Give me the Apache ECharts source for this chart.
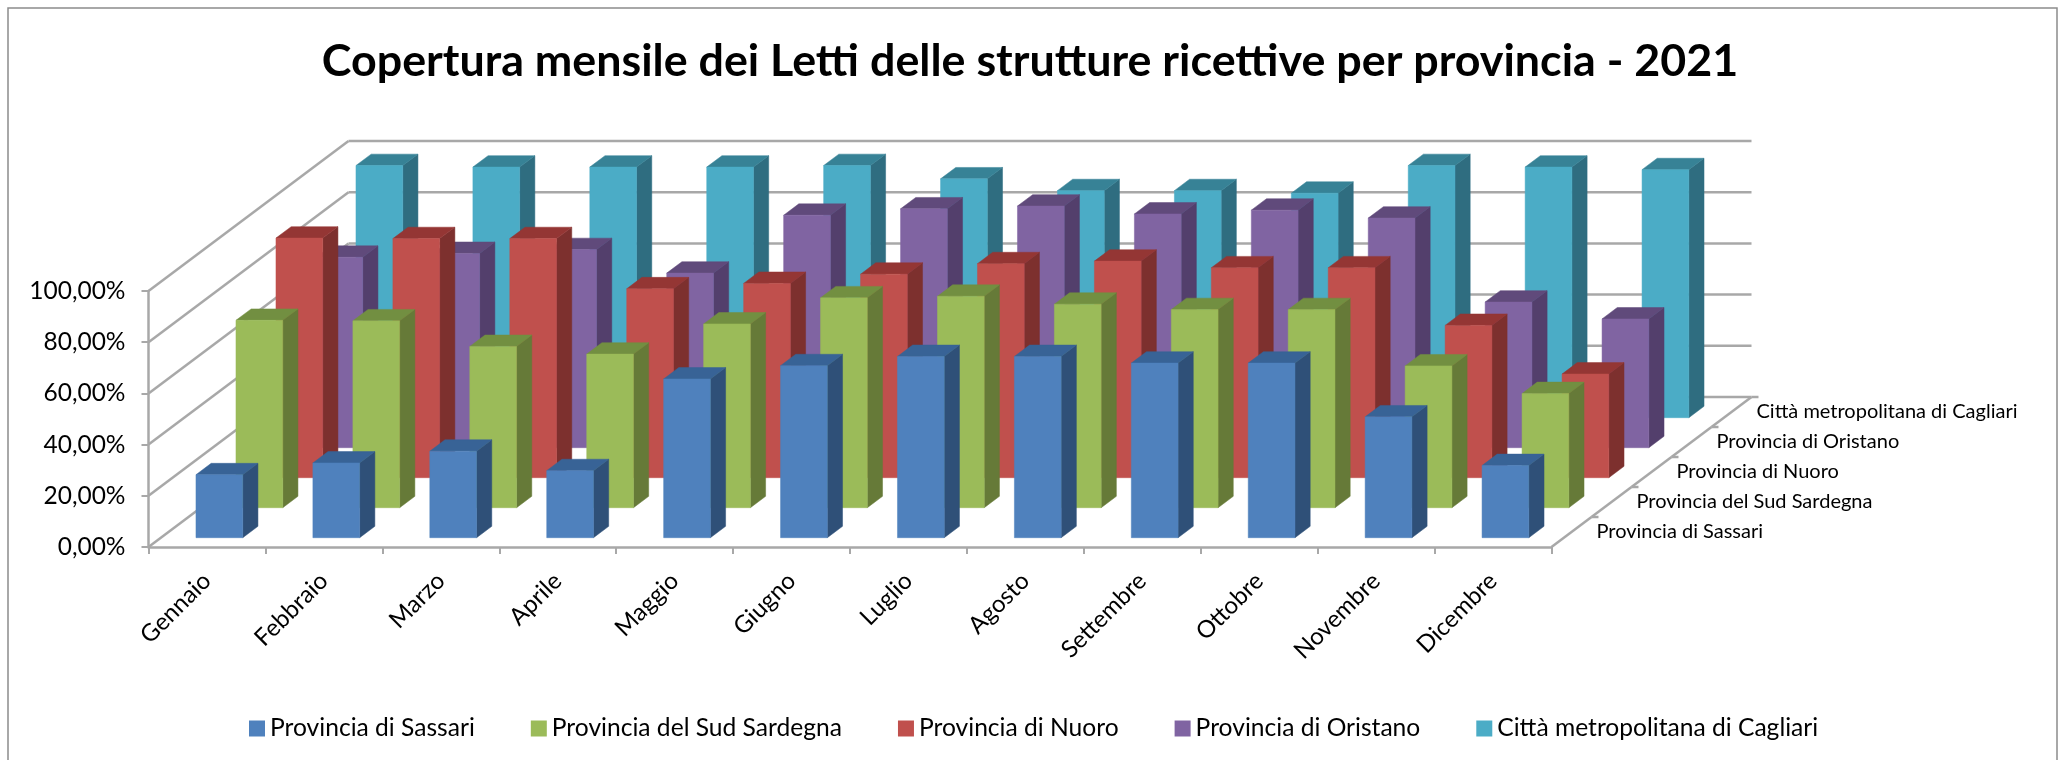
<!DOCTYPE html>
<html>
<head>
<meta charset="utf-8">
<style>html,body{margin:0;padding:0;background:#fff}#c{width:2060px;height:760px}</style>
<script src="https://cdn.jsdelivr.net/npm/echarts@6/dist/echarts.min.js"></script>
</head>
<body>
<div id="c"></div>
<script>
const months = ['Gennaio','Febbraio','Marzo','Aprile','Maggio','Giugno','Luglio','Agosto','Settembre','Ottobre','Novembre','Dicembre'];
const provinces = ['Provincia di Sassari','Provincia del Sud Sardegna','Provincia di Nuoro','Provincia di Oristano','Città metropolitana di Cagliari'];
const yTicks = [0,20,40,60,80,100];
const sassari = [24.6,29.2,33.8,26.2,62.0,67.2,70.8,70.8,68.2,68.2,47.2,28.2];
const sudSardegna = [73.2,73.0,63.0,60.0,71.8,82.0,82.6,79.5,77.4,77.4,55.4,44.6];
const nuoro = [93.6,93.4,93.4,73.8,75.9,79.5,83.6,84.6,82.0,82.0,59.5,40.5];
const oristano = [74.4,75.9,77.4,68.2,90.8,93.3,94.4,91.3,92.8,89.7,56.9,50.3];
const cagliari = [98.5,97.9,97.9,97.9,98.5,93.3,88.7,88.7,87.7,98.5,97.9,96.9];
const rows = [sassari,sudSardegna,nuoro,oristano,cagliari];
const palette = [
  {front:'#4F81BD',side:'#2F5078',top:'#386396'},
  {front:'#9BBB59',side:'#667A38',top:'#728F41'},
  {front:'#C0504D',side:'#7D302E',top:'#943634'},
  {front:'#8064A2',side:'#533F6C',top:'#604A7B'},
  {front:'#4BACC6',side:'#2F6D80',top:'#378296'}
];
const DX = 200, DY = -150, FONT = 'Lato, "Open Sans", sans-serif', GRID = '#A8A8A8';
const depth = d => [DX * d / rows.length, DY * d / rows.length];

function barItem(row){
  return function(params, api){
    const c = api.value(0), v = api.value(1);
    const base = api.coord([c,0]), head = api.coord([c,v]);
    const w = api.size([1,0])[0] * 0.40;
    const f = depth(row + 0.31), b = depth(row + 0.69);
    const xl = base[0] - w/2 + f[0], xr = base[0] + w/2 + f[0];
    const xbl = base[0] - w/2 + b[0], xbr = base[0] + w/2 + b[0];
    const yb = base[1] + f[1], yt = head[1] + f[1];
    const ybb = base[1] + b[1], ytb = head[1] + b[1];
    const col = palette[row];
    const poly = (pts, fill) => ({type:'polygon', shape:{points:pts}, style:{fill, stroke:fill, lineWidth:0.5}, silent:true});
    return {type:'group', children:[
      poly([[xr,yb],[xbr,ybb],[xbr,ytb],[xr,yt]], col.side),
      poly([[xl,yt],[xr,yt],[xbr,ytb],[xbl,ytb]], col.top),
      poly([[xl,yb],[xr,yb],[xr,yt],[xl,yt]], col.front)
    ]};
  };
}
function wallItem(params, api){
  const t = api.value(1);
  const p = api.coord([0,t]);
  const size = api.size([1,0])[0];
  const x0 = p[0] - size/2, x1 = x0 + size * months.length;
  const d = depth(rows.length);
  const line = (a,b) => ({type:'line', shape:{x1:a[0],y1:a[1],x2:b[0],y2:b[1]}, style:{stroke:GRID, lineWidth:2.5}, silent:true});
  return {type:'group', children:[
    line([x0,p[1]],[x0+d[0],p[1]+d[1]]),
    line([x0+d[0],p[1]+d[1]],[x1+d[0],p[1]+d[1]])
  ]};
}
function depthAxisItem(params, api){
  const r = api.value(1);
  const p0 = api.coord([months.length-1,0]);
  const size = api.size([1,0])[0];
  const x = p0[0] + size/2, y = p0[1];
  const children = [];
  const a = depth(r), b = depth(r+1), m = depth(r+0.5);
  children.push({type:'line', shape:{x1:x+a[0],y1:y+a[1],x2:x+b[0],y2:y+b[1]}, style:{stroke:GRID,lineWidth:2.5}, silent:true});
  children.push({type:'line', shape:{x1:x+b[0],y1:y+b[1],x2:x+b[0]+7,y2:y+b[1]}, style:{stroke:GRID,lineWidth:2.5}, silent:true});
  children.push({type:'text', style:{text:provinces[r], x:x+m[0]+25, y:y+m[1], fill:'#000', font:'20px '+FONT, textAlign:'left', textVerticalAlign:'middle'}, silent:true});
  return {type:'group', children};
}

const series = [
  {type:'custom', name:'walls', silent:true, renderItem:wallItem, data:yTicks.map(t=>[0,t]), z:1, clip:false, animation:false},
  {type:'custom', name:'depthAxis', silent:true, renderItem:depthAxisItem, data:provinces.map((_,i)=>[0,i]), encode:{x:0}, z:1, clip:false, animation:false}
];
for (let r = rows.length-1; r >= 0; r--) {
  series.push({type:'custom', name:provinces[r], renderItem:barItem(r), data:rows[r].map((v,i)=>[i,v]),
    itemStyle:{color:palette[r].front}, z:5, clip:false, animation:false});
}
const chart = echarts.init(document.getElementById('c'), null, {renderer:'canvas', width:2060, height:760});
chart.setOption({
  animation:false,
  backgroundColor:'#fff',
  graphic:[{type:'rect', shape:{x:8,y:8,width:2049,height:790}, style:{fill:'none',stroke:'#8c8c8c',lineWidth:1.5}, silent:true, z:0}],
  title:{text:'Copertura mensile dei Letti delle strutture ricettive per provincia - 2021', left:'center', top:34,
    textStyle:{fontFamily:FONT, fontWeight:'bold', fontSize:44.8, color:'#000'}},
  legend:{data:provinces, left:244, top:711, icon:'rect', itemWidth:16, itemHeight:16, itemGap:56,
    textStyle:{fontFamily:FONT, fontSize:24.6, color:'#000'}, selectedMode:false},
  grid:{left:148.5, top:291, width:1403, height:256, containLabel:false},
  xAxis:{type:'category', data:months, boundaryGap:true,
    axisLine:{show:true,lineStyle:{color:GRID,width:2.5}},
    axisTick:{show:true,length:7,lineStyle:{color:GRID,width:2},alignWithLabel:false},
    axisLabel:{rotate:45, margin:30, interval:0, fontFamily:FONT, fontSize:24, color:'#000'}},
  yAxis:{type:'value', min:0, max:100, interval:20,
    axisLine:{show:true,lineStyle:{color:GRID,width:2.5}},
    axisTick:{show:true,length:7,lineStyle:{color:GRID,width:2}},
    splitLine:{show:false},
    axisLabel:{margin:23, fontFamily:FONT, fontSize:24.5, color:'#000', formatter:v=>v.toFixed(2).replace('.',',')+'%'}},
  series
});
</script>
</body>
</html>
